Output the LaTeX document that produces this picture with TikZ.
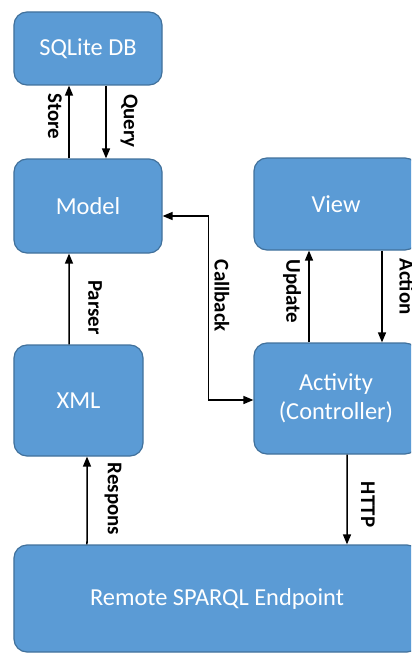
\documentclass[tikz,border=0pt]{standalone}
\usepackage{fontspec}
\setmainfont{Carlito}
\usetikzlibrary{arrows.meta}
\definecolor{boxfill}{HTML}{5B9BD5}
\definecolor{boxline}{HTML}{41719C}
\begin{document}
\begin{tikzpicture}[x=1bp,y=-1bp,
 box/.style={draw=boxline, line width=1.2bp, fill=boxfill, rounded corners=13bp, text=white,
   font=\fontsize{24.5}{29.5}\selectfont, align=center, inner sep=0pt},
 lbl/.style={font=\bfseries\fontsize{21}{24}\selectfont, rotate=-90, inner sep=0pt},
 arr/.style={line width=1.5bp, -{Triangle[length=10bp,width=8bp]}},
 dbl/.style={line width=1.5bp, {Triangle[length=10bp,width=8bp]}-{Triangle[length=10bp,width=8bp]}}]
\useasboundingbox (0,0) rectangle (411,653);
\clip (0,0) rectangle (411,653);

\node[box, minimum width=148bp, minimum height=73bp] (sqlite) at (88,48.5) {SQLite DB};
\node[box, minimum width=148bp, minimum height=94bp] (model) at (88,206) {Model};
\node[box, minimum width=129bp, minimum height=111bp] (xml) at (78.5,400.5) {XML};
\node[box, minimum width=164bp, minimum height=92bp] (view) at (336,204) {View};
\node[box, minimum width=164bp, minimum height=111bp] (activity) at (336,398.5) {Activity\\(Controller)};
\node[box, minimum width=406bp, minimum height=107bp] (remote) at (217,598.5) {Remote SPARQL Endpoint};

\draw[arr] ([xshift=-19bp]model.north) -- ([xshift=-19bp]sqlite.south);
\draw[arr] ([xshift=18bp]sqlite.south) -- ([xshift=18bp]model.north);
\draw[arr] ([xshift=-9.5bp]xml.north) -- ([xshift=-19bp]model.south);
\draw[dbl] ([yshift=-10bp]model.east) -- ++(46,0) |- ([yshift=-1.5bp]activity.west);
\draw[arr] ([xshift=-27bp]activity.north) -- ([xshift=-27bp]view.south);
\draw[arr] ([xshift=46bp]view.south) -- ([xshift=46bp]activity.north);
\draw[arr] ([xshift=11bp]activity.south) -- ([xshift=130bp]remote.north);
\draw[arr] ([xshift=-130bp]remote.north) -- ([xshift=8.5bp]xml.south);

\node[lbl] (lstore) at (55,116.5) {Store};
\node[lbl] (lquery) at (129,121) {Query};
\node[lbl] (lparser) at (95,307.5) {Parser};
\node[lbl] (lcallback) at (222,296) {Callback};
\node[lbl] (lupdate) at (292,291.5) {Update};
\node[lbl] (laction) at (407,286.5) {Action};
\node[lbl] (lhttp) at (368,504.5) {HTTP};
\node[lbl] (lrespons) at (113,499) {Respons};
\end{tikzpicture}
\end{document}
